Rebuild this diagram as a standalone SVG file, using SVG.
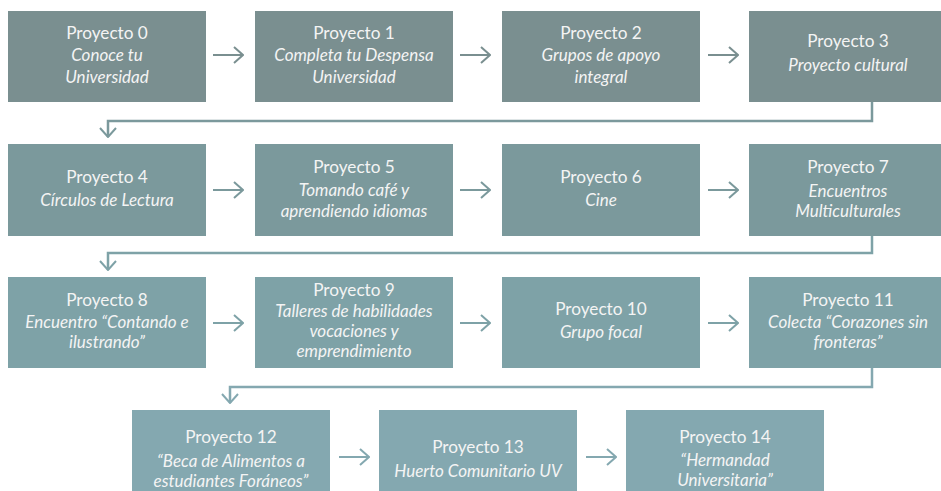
<svg xmlns="http://www.w3.org/2000/svg" width="941" height="491" viewBox="0 0 941 491">
<style>
.t{font-family:Lato,"Open Sans","DejaVu Sans",sans-serif;font-size:17.2px;fill:#f4f4f4;text-anchor:middle}
.s{font-family:Lato,"Open Sans","DejaVu Sans",sans-serif;font-size:17px;font-style:italic;fill:#f4f4f4;text-anchor:middle}
.r1{fill:#7a8f90}.r2{fill:#7b999c}.r3{fill:#7ea2a7}.r4{fill:#84a8b0}
.a{fill:none;stroke-width:2}
.c{fill:none;stroke-width:2.5}
</style>
<defs>
<marker id="m1" viewBox="0 0 11 18" refX="10" refY="9" markerWidth="11" markerHeight="18" markerUnits="userSpaceOnUse" orient="auto"><path d="M1,1 L10,9 L1,17" fill="none" stroke="#7a8f90" stroke-width="2"/></marker>
<marker id="m2" viewBox="0 0 11 18" refX="10" refY="9" markerWidth="11" markerHeight="18" markerUnits="userSpaceOnUse" orient="auto"><path d="M1,1 L10,9 L1,17" fill="none" stroke="#7b999c" stroke-width="2"/></marker>
<marker id="m3" viewBox="0 0 11 18" refX="10" refY="9" markerWidth="11" markerHeight="18" markerUnits="userSpaceOnUse" orient="auto"><path d="M1,1 L10,9 L1,17" fill="none" stroke="#7ea2a7" stroke-width="2"/></marker>
<marker id="m4" viewBox="0 0 11 18" refX="10" refY="9" markerWidth="11" markerHeight="18" markerUnits="userSpaceOnUse" orient="auto"><path d="M1,1 L10,9 L1,17" fill="none" stroke="#84a8b0" stroke-width="2"/></marker>
</defs>
<rect width="941" height="491" fill="#ffffff"/>
<g id="connectors">
<line class="a" stroke="#7a8f90" x1="213" y1="55" x2="243" y2="55" marker-end="url(#m1)"/>
<line class="a" stroke="#7a8f90" x1="460" y1="55" x2="490" y2="55" marker-end="url(#m1)"/>
<line class="a" stroke="#7a8f90" x1="708" y1="55" x2="738" y2="55" marker-end="url(#m1)"/>
<path class="c" stroke="#7b999c" d="M872,102 V121 H108 V137" marker-end="url(#m2)"/>
<line class="a" stroke="#7b999c" x1="213" y1="190" x2="243" y2="190" marker-end="url(#m2)"/>
<line class="a" stroke="#7b999c" x1="460" y1="190" x2="490" y2="190" marker-end="url(#m2)"/>
<line class="a" stroke="#7b999c" x1="708" y1="190" x2="738" y2="190" marker-end="url(#m2)"/>
<path class="c" stroke="#7ea2a7" d="M872,236 V253 H108 V270" marker-end="url(#m3)"/>
<line class="a" stroke="#7ea2a7" x1="213" y1="323" x2="243" y2="323" marker-end="url(#m3)"/>
<line class="a" stroke="#7ea2a7" x1="460" y1="323" x2="490" y2="323" marker-end="url(#m3)"/>
<line class="a" stroke="#7ea2a7" x1="708" y1="323" x2="738" y2="323" marker-end="url(#m3)"/>
<path class="c" stroke="#84a8b0" d="M872,368 V387 H230 V403" marker-end="url(#m4)"/>
<line class="a" stroke="#84a8b0" x1="339" y1="457" x2="369" y2="457" marker-end="url(#m4)"/>
<line class="a" stroke="#84a8b0" x1="586" y1="457" x2="616" y2="457" marker-end="url(#m4)"/>
</g>
<g id="p0"><rect class="r1" x="8" y="11" width="198" height="91"/><text class="t" x="107" y="39">Proyecto 0</text><text class="s" x="107" y="61">Conoce tu</text><text class="s" x="107" y="83">Universidad</text></g>
<g id="p1"><rect class="r1" x="255" y="11" width="198" height="91"/><text class="t" x="354" y="39">Proyecto 1</text><text class="s" x="354" y="61">Completa tu Despensa</text><text class="s" x="354" y="83">Universidad</text></g>
<g id="p2"><rect class="r1" x="502" y="11" width="198" height="91"/><text class="t" x="601" y="39">Proyecto 2</text><text class="s" x="601" y="61">Grupos de apoyo</text><text class="s" x="601" y="83">integral</text></g>
<g id="p3"><rect class="r1" x="749" y="11" width="198" height="91"/><text class="t" x="848" y="47">Proyecto 3</text><text class="s" x="848" y="71">Proyecto cultural</text></g>
<g id="p4"><rect class="r2" x="8" y="144" width="198" height="92"/><text class="t" x="107" y="183">Proyecto 4</text><text class="s" x="107" y="206">Círculos de Lectura</text></g>
<g id="p5"><rect class="r2" x="255" y="144" width="198" height="92"/><text class="t" x="354" y="173">Proyecto 5</text><text class="s" x="354" y="196">Tomando café y</text><text class="s" x="354" y="217">aprendiendo idiomas</text></g>
<g id="p6"><rect class="r2" x="502" y="144" width="198" height="92"/><text class="t" x="601" y="183">Proyecto 6</text><text class="s" x="601" y="206">Cine</text></g>
<g id="p7"><rect class="r2" x="749" y="144" width="198" height="92"/><text class="t" x="848" y="173">Proyecto 7</text><text class="s" x="848" y="197">Encuentros</text><text class="s" x="848" y="217">Multiculturales</text></g>
<g id="p8"><rect class="r3" x="8" y="277" width="198" height="91"/><text class="t" x="107" y="306">Proyecto 8</text><text class="s" x="107" y="328">Encuentro “Contando e</text><text class="s" x="107" y="348">ilustrando”</text></g>
<g id="p9"><rect class="r3" x="255" y="277" width="198" height="91"/><text class="t" x="354" y="296">Proyecto 9</text><text class="s" x="354" y="317">Talleres de habilidades</text><text class="s" x="354" y="337">vocaciones y</text><text class="s" x="354" y="357">emprendimiento</text></g>
<g id="p10"><rect class="r3" x="502" y="277" width="198" height="91"/><text class="t" x="601" y="315">Proyecto 10</text><text class="s" x="601" y="338">Grupo focal</text></g>
<g id="p11"><rect class="r3" x="749" y="277" width="198" height="91"/><text class="t" x="848" y="306">Proyecto 11</text><text class="s" x="848" y="328">Colecta “Corazones sin</text><text class="s" x="848" y="348">fronteras”</text></g>
<g id="p12"><rect class="r4" x="132" y="410" width="198" height="100"/><text class="t" x="231" y="443">Proyecto 12</text><text class="s" x="231" y="467">“Beca de Alimentos a</text><text class="s" x="231" y="487">estudiantes Foráneos”</text></g>
<g id="p13"><rect class="r4" x="379" y="410" width="198" height="100"/><text class="t" x="478" y="453">Proyecto 13</text><text class="s" x="478" y="477">Huerto Comunitario UV</text></g>
<g id="p14"><rect class="r4" x="626" y="410" width="198" height="100"/><text class="t" x="725" y="443">Proyecto 14</text><text class="s" x="725" y="466">“Hermandad</text><text class="s" x="725" y="486">Universitaria”</text></g>
</svg>
